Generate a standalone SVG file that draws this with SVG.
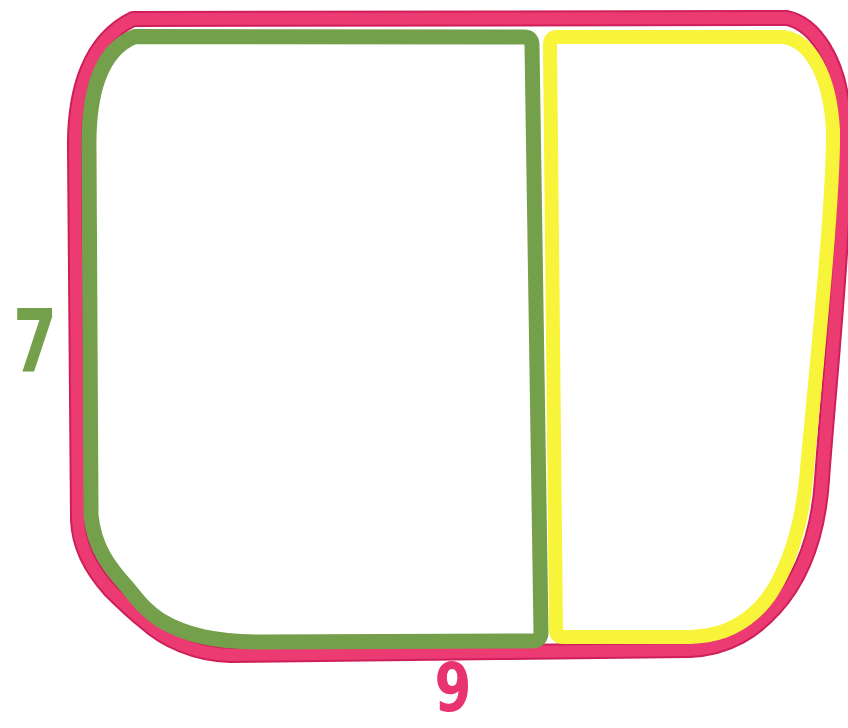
<svg xmlns="http://www.w3.org/2000/svg" width="848" height="728" viewBox="0 0 848 728">
  <style>
    .band { fill: none; stroke-linejoin: round; stroke-linecap: round; }
    .pink-edge { stroke: #cf1f5a; stroke-width: 16; }
    .pink { stroke: #ec3a73; stroke-width: 12; }
    .green { stroke: #74a04c; stroke-width: 15; }
    .yellow { stroke: #f8f43a; stroke-width: 14; }
    .num { font-family: "DejaVu Sans", "Liberation Sans", sans-serif; font-weight: bold; text-anchor: middle; }
  </style>
  <defs>
    <path id="outer-path" d="M 133 19 L 787 18 C 815 24, 838 60, 843 110 L 843 200 C 840 280, 826 420, 822 480 C 818 540, 800 580, 775 608 C 755 630, 730 648, 690 650 L 500 652 L 230 655 C 195 654, 165 640, 145 622 C 130 610, 122 602, 110 590 C 90 568, 79 545, 78 520 L 75 150 C 74 90, 90 40, 133 19 Z"/>
  </defs>
  <rect x="0" y="0" width="848" height="728" fill="#ffffff"/>
  <g id="outer-shape">
    <use href="#outer-path" class="band pink-edge"/>
    <use href="#outer-path" class="band pink"/>
  </g>
  <g id="left-part">
    <path class="band green" d="M 135 36.5 L 524 37 Q 532 37, 532 45 L 541 632 Q 541 641, 532 641 L 260 642 C 215 642, 185 635, 160 620 C 145 610, 138 600, 128 588 C 110 568, 94 548, 91 515 L 89 150 C 88 95, 100 50, 135 36.5 Z"/>
  </g>
  <g id="right-part">
    <path class="band yellow" d="M 557 37 L 783 37 C 810 40, 830 75, 833 130 C 834 200, 815 380, 806 480 C 800 540, 780 590, 755 612 C 735 630, 715 636, 690 637 L 563 637 Q 556 637, 556 630 L 550 45 Q 550 37, 557 37 Z"/>
  </g>
  <g id="label-7">
    <text class="num" transform="translate(35,372) scale(0.72,1)" x="0" y="0" font-size="88" fill="#74a04c">7</text>
  </g>
  <g id="label-9">
    <text class="num" transform="translate(453,711) scale(0.78,1)" x="0" y="0" font-size="68" fill="#e8336e">9</text>
  </g>
  <g id="connectors"/>
</svg>
